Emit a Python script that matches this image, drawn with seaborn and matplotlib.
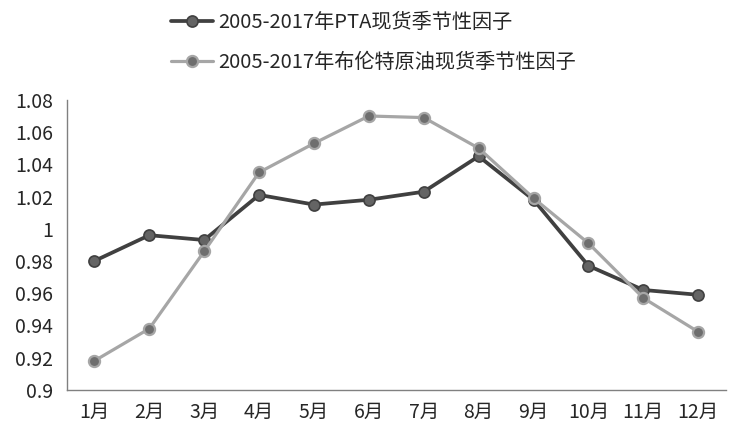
import pandas as pd
import numpy as np
import matplotlib
matplotlib.use("Agg")
import matplotlib.pyplot as plt
import seaborn as sns

# --- data ---
months = ["1月", "2月", "3月", "4月", "5月", "6月",
          "7月", "8月", "9月", "10月", "11月", "12月"]
pta = [0.980, 0.996, 0.993, 1.021, 1.015, 1.018,
       1.023, 1.045, 1.018, 0.977, 0.962, 0.959]
brent = [0.918, 0.938, 0.986, 1.035, 1.053, 1.070,
         1.069, 1.050, 1.019, 0.991, 0.957, 0.936]
labels = ["2005-2017年PTA现货季节性因子", "2005-2017年布伦特原油现货季节性因子"]

sns.set_theme(style="white")
plt.rcParams['font.family'] = ['Noto Sans CJK SC', 'DejaVu Sans']

x = np.arange(len(months))
df = pd.DataFrame({"x": x, "pta": pta, "brent": brent})

fig, ax = plt.subplots(figsize=(7.36, 4.4), dpi=100)

sns.lineplot(data=df, x="x", y="pta", ax=ax, color="#404040", lw=2.7,
             marker="o", markersize=8, markerfacecolor="#646464",
             markeredgecolor="#404040", markeredgewidth=1.2, label=labels[0])
sns.lineplot(data=df, x="x", y="brent", ax=ax, color="#a6a6a6", lw=2.3,
             marker="o", markersize=8, markerfacecolor="#6e6e6e",
             markeredgecolor="#a6a6a6", markeredgewidth=1.6, label=labels[1])

ax.set_xlim(-0.5, 11.5)
ax.set_ylim(0.9, 1.08)
ax.set_yticks(np.arange(0.9, 1.0801, 0.02))
ax.set_yticklabels(["0.9", "0.92", "0.94", "0.96", "0.98", "1",
                    "1.02", "1.04", "1.06", "1.08"])

# boundary ticks between months, labels centred on months
ax.set_xticks(np.arange(-0.5, 12, 1))
ax.set_xticklabels([])
ax.set_xticks(x, minor=True)
ax.set_xticklabels(months, minor=True)
ax.tick_params(axis="x", which="major", direction="out", length=6,
               color="#808080", width=1)
ax.tick_params(axis="x", which="minor", length=0, pad=9, labelsize=14)
ax.tick_params(axis="y", direction="out", length=6, color="#808080",
               width=1, labelsize=14, pad=4)
ax.set_xlabel("")
ax.set_ylabel("")

for s in ["top", "right"]:
    ax.spines[s].set_visible(False)
for s in ["left", "bottom"]:
    ax.spines[s].set_color("#808080")
    ax.spines[s].set_linewidth(1)

ax.get_legend().remove()
handles, _ = ax.get_legend_handles_labels()
fig.legend(handles, labels, loc="upper left",
           bbox_to_anchor=(0.222, 1.0 - 4 / 440), frameon=False,
           fontsize=14.5, handlelength=2.05, labelspacing=0.95,
           handletextpad=0.25, borderaxespad=0)

plt.subplots_adjust(left=0.091, right=0.986, top=0.773, bottom=0.114)
plt.savefig("out.png", dpi=100)
